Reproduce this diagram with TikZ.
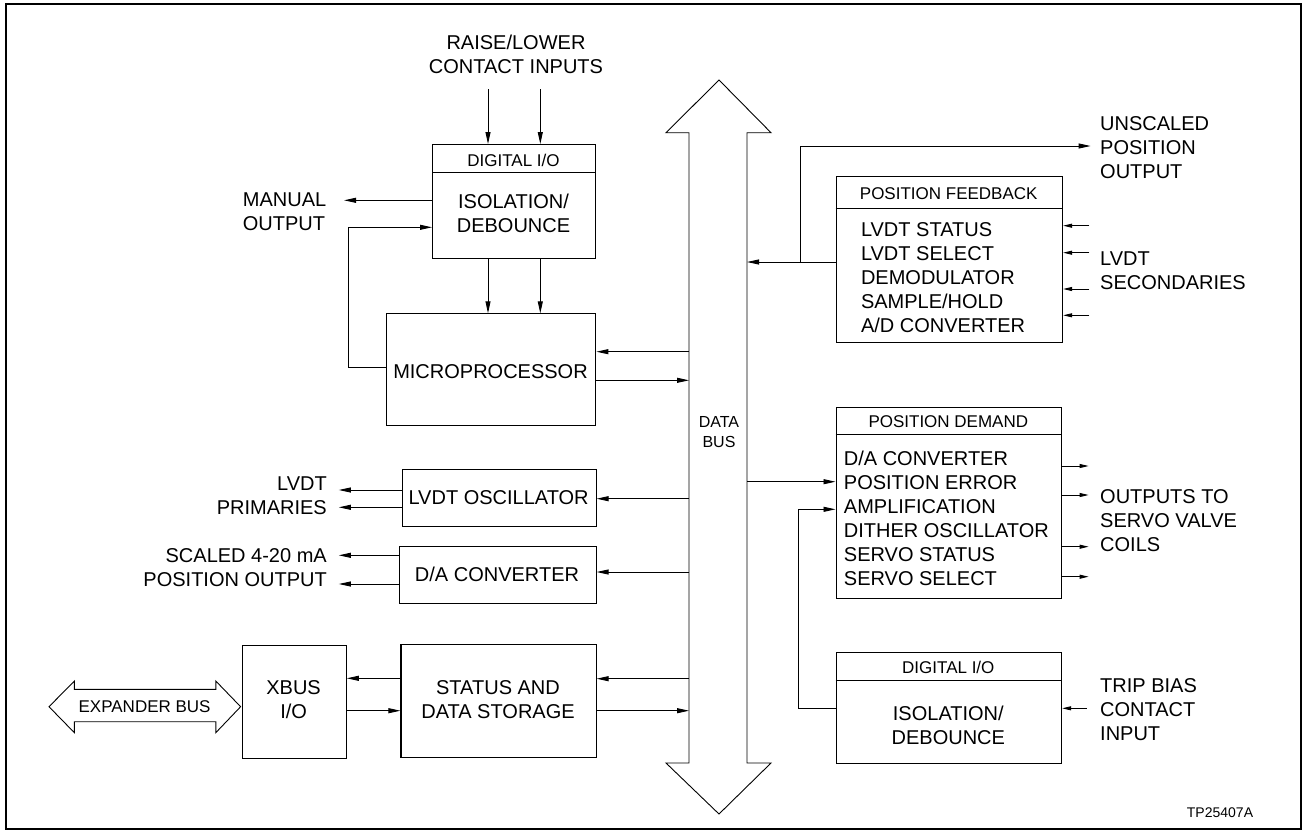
\documentclass[tikz,border=0pt]{standalone}
\usepackage{fontspec}
\setmainfont{Liberation Sans}
\usetikzlibrary{arrows.meta}
\begin{document}
\begin{tikzpicture}[x=1pt,y=-1pt,
  box/.style={draw, line width=1.1pt, inner sep=0pt, anchor=north west},
  conn/.style={line width=0.9pt},
  arr/.style={conn, -{Triangle[length=12pt,width=5pt]}},
  sarr/.style={conn, -{Triangle[length=9pt,width=4pt]}},
  lbl/.style={font=\fontsize{20}{24}\selectfont, inner sep=0pt},
  small/.style={font=\fontsize{17}{20}\selectfont, inner sep=0pt},
  divider/.style={line width=1.1pt}]

\useasboundingbox (0,0) rectangle (1308,833);
\draw[line width=1.5pt] (6,4) rectangle (1301,829);

% ---------- data bus ----------
\coordinate (busL) at (689,0);
\coordinate (busR) at (747,0);
\draw[conn] (719,80) -- (771,132.7) -- (747,132.7) -- (747,763) -- (771,763)
  -- (719,814) -- (666,763) -- (689,763) -- (689,132.7) -- (666,132.7) -- cycle;
\node[font=\fontsize{16}{20}\selectfont, align=center, inner sep=0pt] (dbus) at (719,432.5) {DATA\\BUS};

% ---------- digital I/O (top) ----------
\node[box, minimum width=163pt, minimum height=114pt] (dio1) at (432,144) {};
\node[small] (dio1t) at (513.5,160.8) {DIGITAL I/O};
\draw[divider] (dio1.west |- 0,172.7) -- (dio1.east |- 0,172.7);
\node[lbl, align=center] (dio1b) at (513.5,213.7) {ISOLATION/\\DEBOUNCE};

\node[lbl, align=center] (rl) at (516,54.7) {RAISE/LOWER\\CONTACT INPUTS};
\coordinate (rl1) at (488,89.3);
\coordinate (rl2) at (540.3,89.3);
\draw[arr] (rl1) -- (rl1 |- dio1.north);
\draw[arr] (rl2) -- (rl2 |- dio1.north);

\coordinate (mo) at (344,200.3);
\draw[arr] (dio1.west |- mo) -- (mo);
\node[lbl, align=left, anchor=west] (mol) at (242.7,211.5) {MANUAL\\OUTPUT};

% ---------- microprocessor ----------
\node[box, minimum width=209.6pt, minimum height=111.7pt] (micro) at (385.7,313.3) {};
\node[lbl] (microt) at (490.5,371.7) {MICROPROCESSOR};
\draw[arr] (rl1 |- dio1.south) -- (rl1 |- micro.north);
\draw[arr] (rl2 |- dio1.south) -- (rl2 |- micro.north);

\coordinate (fb) at (348.7,367);
\draw[arr] (micro.west |- fb) -- (fb) -- (fb |- 0,227.3) -- (dio1.west |- 0,227.3);

\draw[arr] (busL |- 0,351.7) -- (micro.east |- 0,351.7);
\draw[arr] (micro.east |- 0,380.3) -- (busL |- 0,380.3);

% ---------- LVDT oscillator ----------
\node[box, minimum width=193.8pt, minimum height=56.7pt] (osc) at (401.7,469.3) {};
\node[lbl] (osct) at (498.6,497.7) {LVDT OSCILLATOR};
\draw[arr] (busL |- 0,498.7) -- (osc.east |- 0,498.7);
\coordinate (p1) at (338.8,490);
\coordinate (p2) at (338.8,507.3);
\draw[arr] (osc.west |- p1) -- (p1);
\draw[arr] (osc.west |- p2) -- (p2);
\node[lbl, align=right, anchor=east] (prim) at (327,495.5) {LVDT\\PRIMARIES};

% ---------- D/A converter ----------
\node[box, minimum width=197pt, minimum height=56.7pt] (dac) at (398.5,546) {};
\node[lbl] (dact) at (497,574.3) {D/A CONVERTER};
\draw[arr] (busL |- 0,572) -- (dac.east |- 0,572);
\coordinate (s1) at (338.8,555.3);
\coordinate (s2) at (338.8,584);
\draw[arr] (dac.west |- s1) -- (s1);
\draw[arr] (dac.west |- s2) -- (s2);
\node[lbl, align=right, anchor=east] (scl) at (327,568) {SCALED 4-20 mA\\POSITION OUTPUT};

% ---------- XBUS and storage ----------
\node[box, minimum width=104.2pt, minimum height=112.7pt] (xbus) at (241.5,645.3) {};
\node[lbl, align=center] (xbust) at (293.6,699.5) {XBUS\\I/O};
\node[box, minimum width=195.1pt, minimum height=113.3pt] (stor) at (400.4,644) {};
\node[lbl, align=center] (stort) at (498,699.7) {STATUS AND\\DATA STORAGE};
\draw[arr] (stor.west |- 0,678.3) -- (xbus.east |- 0,678.3);
\draw[arr] (xbus.east |- 0,710.7) -- (stor.west |- 0,710.7);
\draw[arr] (busL |- 0,678.7) -- (stor.east |- 0,678.7);
\draw[arr] (stor.east |- 0,710.7) -- (busL |- 0,710.7);

\draw[conn] (49,706.7) -- (74.4,681) -- (74.4,689.3) -- (215.8,689.3) -- (215.8,681)
  -- (240.6,706.7) -- (215.8,732.7) -- (215.8,721.7) -- (74.4,721.7) -- (74.4,732.7) -- cycle;
\node[small] (exp) at (144.6,707) {EXPANDER BUS};

% ---------- position feedback ----------
\node[box, minimum width=226.5pt, minimum height=166.6pt] (pfb) at (835.5,175.7) {};
\node[small] (pfbt) at (948.7,193.3) {POSITION FEEDBACK};
\draw[divider] (pfb.west |- 0,208.3) -- (pfb.east |- 0,208.3);
\node[lbl, align=left, anchor=west] (pfbb) at (860.8,277.3)
  {LVDT STATUS\\LVDT SELECT\\DEMODULATOR\\SAMPLE/HOLD\\A/D CONVERTER};
\coordinate (br) at (800,262);
\coordinate (uo) at (1090.6,146);
\draw[arr] (pfb.west |- br) -- (busR |- br);
\draw[arr] (br) -- (br |- uo) -- (uo);
\node[lbl, align=left, anchor=west] (uol) at (1100,147.8) {UNSCALED\\POSITION\\OUTPUT};
\coordinate (in1) at (1089.4,225.7);
\coordinate (in2) at (1089.4,252.7);
\coordinate (in3) at (1089.4,289);
\coordinate (in4) at (1089.4,315.3);
\draw[sarr] (in1) -- (pfb.east |- in1);
\draw[sarr] (in2) -- (pfb.east |- in2);
\draw[sarr] (in3) -- (pfb.east |- in3);
\draw[sarr] (in4) -- (pfb.east |- in4);
\node[lbl, align=left, anchor=west] (secl) at (1100,271) {LVDT\\SECONDARIES};

% ---------- position demand ----------
\node[box, minimum width=225.5pt, minimum height=191.6pt] (pdm) at (835.5,406.7) {};
\node[small] (pdmt) at (948.3,422) {POSITION DEMAND};
\draw[divider] (pdm.west |- 0,434.3) -- (pdm.east |- 0,434.3);
\node[lbl, align=left, anchor=west] (pdmb) at (843.7,518)
  {D/A CONVERTER\\POSITION ERROR\\AMPLIFICATION\\DITHER OSCILLATOR\\SERVO STATUS\\SERVO SELECT};
\draw[arr] (busR |- 0,481.7) -- (pdm.west |- 0,481.7);
\coordinate (o1) at (1088.6,466);
\coordinate (o2) at (1088.6,495);
\coordinate (o3) at (1088.6,546.7);
\coordinate (o4) at (1088.6,576.7);
\draw[sarr] (pdm.east |- o1) -- (o1);
\draw[sarr] (pdm.east |- o2) -- (o2);
\draw[sarr] (pdm.east |- o3) -- (o3);
\draw[sarr] (pdm.east |- o4) -- (o4);
\node[lbl, align=left, anchor=west] (outl) at (1100,521) {OUTPUTS TO\\SERVO VALVE\\COILS};

% ---------- digital I/O (bottom) ----------
\node[box, minimum width=225.5pt, minimum height=111.6pt] (dio2) at (835.5,651.7) {};
\node[small] (dio2t) at (948.3,667.7) {DIGITAL I/O};
\draw[divider] (dio2.west |- 0,680.3) -- (dio2.east |- 0,680.3);
\node[lbl, align=center] (dio2b) at (948.3,725.5) {ISOLATION/\\DEBOUNCE};
\coordinate (af) at (798.8,708);
\draw[arr] (dio2.west |- af) -- (af) -- (af |- 0,509.3) -- (pdm.west |- 0,509.3);
\coordinate (tb) at (1086.5,708.3);
\draw[sarr] (tb) -- (dio2.east |- tb);
\node[lbl, align=left, anchor=west] (tbl) at (1100,709.6) {TRIP BIAS\\CONTACT\\INPUT};

\node[font=\fontsize{14}{16}\selectfont, inner sep=0pt] (tp) at (1220,812.3) {TP25407A};
\end{tikzpicture}
\end{document}
